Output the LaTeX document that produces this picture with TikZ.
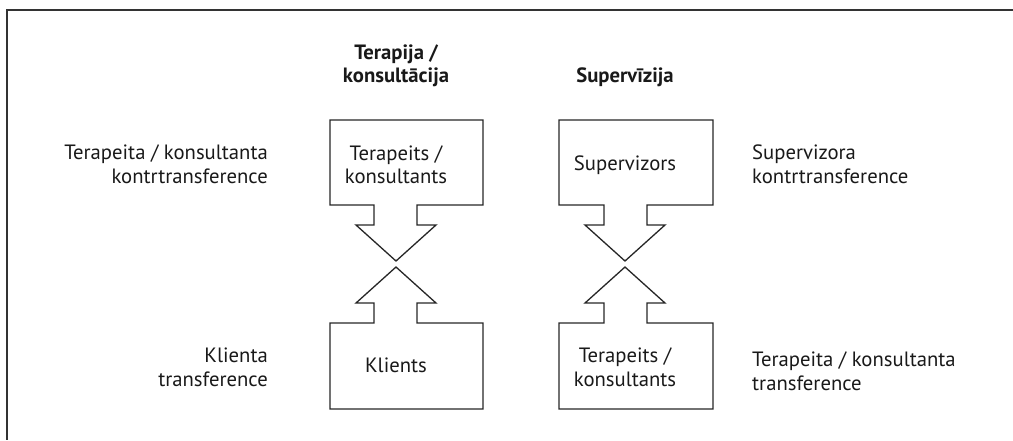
\documentclass[tikz,border=0pt]{standalone}
\usepackage{fontspec}
\setmainfont{PT Sans}
\begin{document}
\begin{tikzpicture}[x=1pt,y=-1pt,
  outline/.style={draw=black!85,line width=1.3pt,line join=miter},
  lbl/.style={font=\fontsize{20.7}{24}\selectfont,text=black!90,inner sep=0pt,anchor=base},
  head/.style={lbl,font=\fontsize{20.7}{24}\selectfont\bfseries},
  lside/.style={lbl,anchor=base east},
  rside/.style={lbl,anchor=base west}]
\useasboundingbox (0,0) rectangle (1013,440);
% frame
\draw[black!80,line width=1.6pt] (1013,10) -- (7,10) -- (7,440);

% column one: therapy / consultation
\draw[outline] (330,120) -- (483,120) -- (483,205) -- (417,205) -- (417,225)
  -- (436,225) -- (396,261) -- (356,225) -- (374,225) -- (374,205)
  -- (330,205) -- cycle;
\draw[outline] (396,267) -- (436,303) -- (417,303) -- (417,323) -- (483,323)
  -- (483,409) -- (330,409) -- (330,323) -- (374,323) -- (374,303)
  -- (356,303) -- cycle;
\node[head] (h1a) at (396,59) {Terapija /};
\node[head] (h1b) at (396,82) {konsultācija};
\node[lbl] (t1a) at (396,160) {Terapeits /};
\node[lbl] (t1b) at (396,183) {konsultants};
\node[lbl] (b1) at (396,372) {Klients};
\node[lside] (l1a) at (268,159) {Terapeita / konsultanta};
\node[lside] (l1b) at (268,183) {kontrtransference};
\node[lside] (l2a) at (268,362) {Klienta};
\node[lside] (l2b) at (268,386) {transference};

% column two: supervision
\draw[outline] (559,120) -- (713,120) -- (713,205) -- (647,205) -- (647,225)
  -- (665,225) -- (625,261) -- (585,225) -- (604,225) -- (604,205)
  -- (559,205) -- cycle;
\draw[outline] (625,267) -- (665,303) -- (647,303) -- (647,323) -- (713,323)
  -- (713,409) -- (559,409) -- (559,323) -- (604,323) -- (604,303)
  -- (585,303) -- cycle;
\node[head] (h2) at (625,82) {Supervīzija};
\node[lbl] (t2) at (625,170) {Supervizors};
\node[lbl] (b2a) at (625,362) {Terapeits /};
\node[lbl] (b2b) at (625,386) {konsultants};
\node[rside] (r1a) at (752,159) {Supervizora};
\node[rside] (r1b) at (752,183) {kontrtransference};
\node[rside] (r2a) at (752,366) {Terapeita / konsultanta};
\node[rside] (r2b) at (752,390) {transference};
\end{tikzpicture}
\end{document}
